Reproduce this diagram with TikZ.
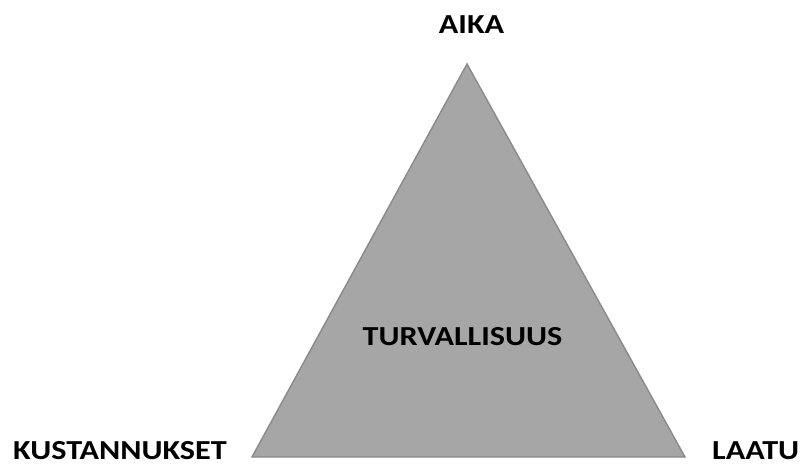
\documentclass[tikz,border=0pt]{standalone}
\usepackage{fontspec}
\setmainfont{Carlito}[FakeStretch=1.17]
\definecolor{trifill}{HTML}{A6A6A6}
\definecolor{triedge}{HTML}{8A8A8A}
\tikzset{
  corner/.style={font=\bfseries\fontsize{27.5}{27.5}\selectfont, inner sep=0pt, text=black},
  centerlabel/.style={font=\bfseries\fontsize{27.5}{27.5}\selectfont, inner sep=0pt, text=black},
  tri/.style={fill=trifill, draw=triedge, line width=1.4pt, line join=miter}
}
\begin{document}
\begin{tikzpicture}[x=1pt,y=-1pt]
  \useasboundingbox (0,0) rectangle (800,465);
  % triangle corners
  \coordinate (top) at (467,64);
  \coordinate (bl) at (252,457);
  \coordinate (br) at (685,457);
  \draw[tri] (top) -- (br) -- (bl) -- cycle;
  % labels
  \node[corner, anchor=base] (aika) at (471.5,34) {AIKA};
  \node[corner, anchor=base west] (kust) at (13,459) {KUSTANNUKSET};
  \node[corner, anchor=base west] (laatu) at (712,459) {LAATU};
  \node[centerlabel, anchor=base] (turva) at (462.5,345.5) {TURVALLISUUS};
\end{tikzpicture}
\end{document}
